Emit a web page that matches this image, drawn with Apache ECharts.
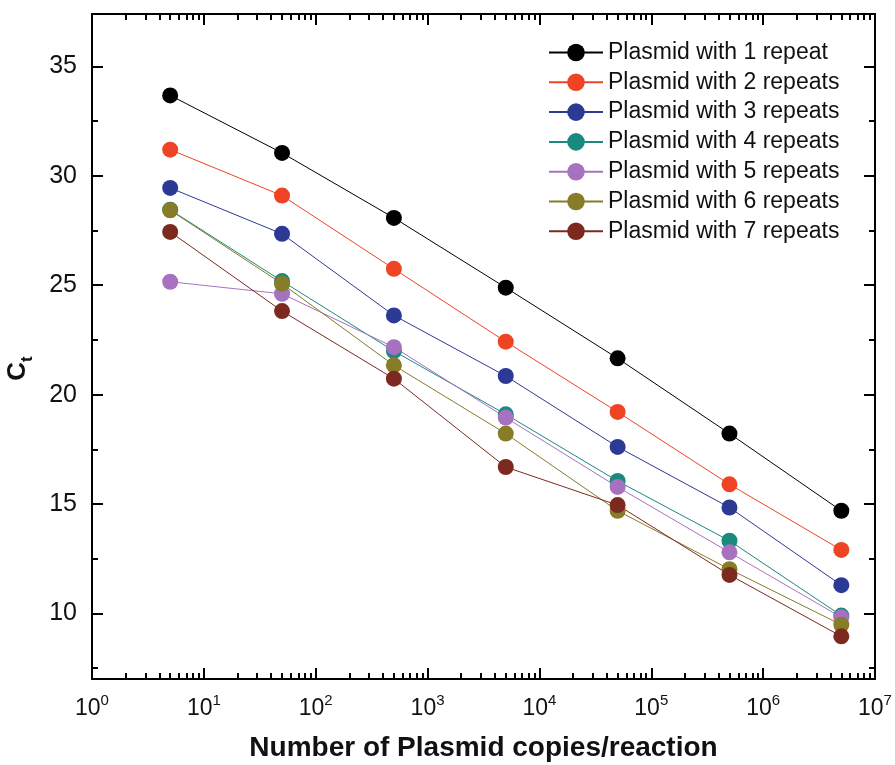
<!DOCTYPE html>
<html>
<head>
<meta charset="utf-8">
<script src="https://cdn.jsdelivr.net/npm/echarts@6/dist/echarts.min.js"></script>
<style>
  html, body { margin: 0; padding: 0; background: #fff; }
  #chart { width: 895px; height: 765px; }
</style>
</head>
<body>
<div id="chart"></div>
<script>
// plasmid copies per reaction
const copies = [5, 50, 500, 5000, 50000, 500000, 5000000];

const ct1 = [33.68, 31.05, 28.08, 24.89, 21.66, 18.22, 14.69];
const ct2 = [31.20, 29.10, 25.75, 22.42, 19.21, 15.90, 12.90];
const ct3 = [29.45, 27.35, 23.62, 20.85, 17.61, 14.84, 11.29];
const ct4 = [28.45, 25.19, 21.99, 19.10, 16.05, 13.32, 9.90];
const ct5 = [25.16, 24.61, 22.17, 18.95, 15.78, 12.79, 9.82];
const ct6 = [28.43, 25.07, 21.34, 18.22, 14.69, 12.02, 9.48];
const ct7 = [27.44, 23.82, 20.73, 16.69, 14.95, 11.76, 8.95];

const names = [
  'Plasmid with 1 repeat', 'Plasmid with 2 repeats', 'Plasmid with 3 repeats',
  'Plasmid with 4 repeats', 'Plasmid with 5 repeats', 'Plasmid with 6 repeats',
  'Plasmid with 7 repeats'
];
const colors = ['#000000', '#ef4423', '#2c3a96', '#1a8a7e', '#a672bf', '#877c28', '#7c2a1f'];

const xMajor = [1, 10, 100, 1000, 10000, 100000, 1000000, 10000000];
const yMajor = [10, 15, 20, 25, 30, 35];
const yMinor = [7.5, 12.5, 17.5, 22.5, 27.5, 32.5];

let xMinor = [];
for (let d = 1; d < 1e7; d *= 10) {
  for (let k = 2; k <= 9; k++) xMinor.push(k * d);
}

const font = 'Liberation Sans, Arial, sans-serif';
const X_MIN = 1, X_MAX = 1e7, Y_MIN = 7, Y_MAX = 37.4;

function logAxis(pos, ticks, len, showLine) {
  return {
    type: 'log',
    logBase: 10,
    position: pos,
    min: X_MIN,
    max: X_MAX,
    axisLine: { show: showLine, onZero: false, lineStyle: { color: '#000', width: 2 } },
    axisTick: { show: true, inside: true, length: len, customValues: ticks, lineStyle: { color: '#000', width: 2 } },
    axisLabel: { show: false },
    splitLine: { show: false },
    minorTick: { show: false },
    minorSplitLine: { show: false }
  };
}

function valAxis(pos, ticks, len, showLine) {
  return {
    type: 'value',
    position: pos,
    min: Y_MIN,
    max: Y_MAX,
    axisLine: { show: showLine, onZero: false, lineStyle: { color: '#000', width: 2 } },
    axisTick: { show: true, inside: true, length: len, customValues: ticks, lineStyle: { color: '#000', width: 2 } },
    axisLabel: { show: false },
    splitLine: { show: false }
  };
}

const xBottom = logAxis('bottom', xMajor, 11, true);
xBottom.axisLabel = {
  show: true,
  customValues: xMajor,
  margin: 14,
  formatter: v => '{b|10}{s|' + Math.round(Math.log10(v)) + '}',
  rich: {
    b: { fontSize: 23, fontFamily: font, color: '#111' },
    s: { fontSize: 15, fontFamily: font, color: '#111', padding: [0, 0, 16, 0] }
  }
};
xBottom.name = 'Number of Plasmid copies/reaction';
xBottom.nameLocation = 'middle';
xBottom.nameGap = 55;
xBottom.nameTextStyle = { fontSize: 28, fontWeight: 'bold', fontFamily: font, color: '#111' };

const yLeft = valAxis('left', yMajor, 11, true);
yLeft.axisLabel = {
  show: true,
  customValues: yMajor,
  margin: 15,
  fontSize: 25,
  fontFamily: font,
  color: '#111'
};
yLeft.name = '{c|C}{t|t}';
yLeft.nameLocation = 'middle';
yLeft.nameGap = 56;
yLeft.nameTextStyle = {
  padding: [0, 44, 0, 0],
  rich: {
    c: { fontSize: 26, fontWeight: 'bold', fontFamily: font, color: '#111' },
    t: { fontSize: 17, fontWeight: 'bold', fontFamily: font, color: '#111', padding: [20, 0, 0, 0] }
  }
};

const seriesData = [ct1, ct2, ct3, ct4, ct5, ct6, ct7];

const option = {
  backgroundColor: '#fff',
  animation: false,
  color: colors,
  grid: {
    left: 92,
    right: 20,
    top: 14,
    bottom: 86,
    containLabel: false,
    outerBoundsMode: 'none'
  },
  legend: {
    data: names,
    orient: 'vertical',
    left: 548,
    top: 41,
    padding: 0,
    itemWidth: 54,
    itemHeight: 22,
    itemGap: 6.8,
    textStyle: { fontSize: 23, fontFamily: font, color: '#111', lineHeight: 22 }
  },
  xAxis: [
    xBottom,
    logAxis('bottom', xMinor, 6, false),
    logAxis('top', xMajor, 11, true),
    logAxis('top', xMinor, 6, false)
  ],
  yAxis: [
    yLeft,
    valAxis('left', yMinor, 6, false),
    valAxis('right', yMajor, 11, true),
    valAxis('right', yMinor, 6, false)
  ],
  series: seriesData.map((vals, i) => ({
    name: names[i],
    type: 'line',
    xAxisIndex: 0,
    yAxisIndex: 0,
    data: copies.map((c, j) => [c, vals[j]]),
    symbol: 'circle',
    symbolSize: 16,
    lineStyle: { width: 1, color: colors[i] },
    itemStyle: { color: colors[i] }
  }))
};

const myChart = echarts.init(document.getElementById('chart'));
myChart.setOption(option);
</script>
</body>
</html>
